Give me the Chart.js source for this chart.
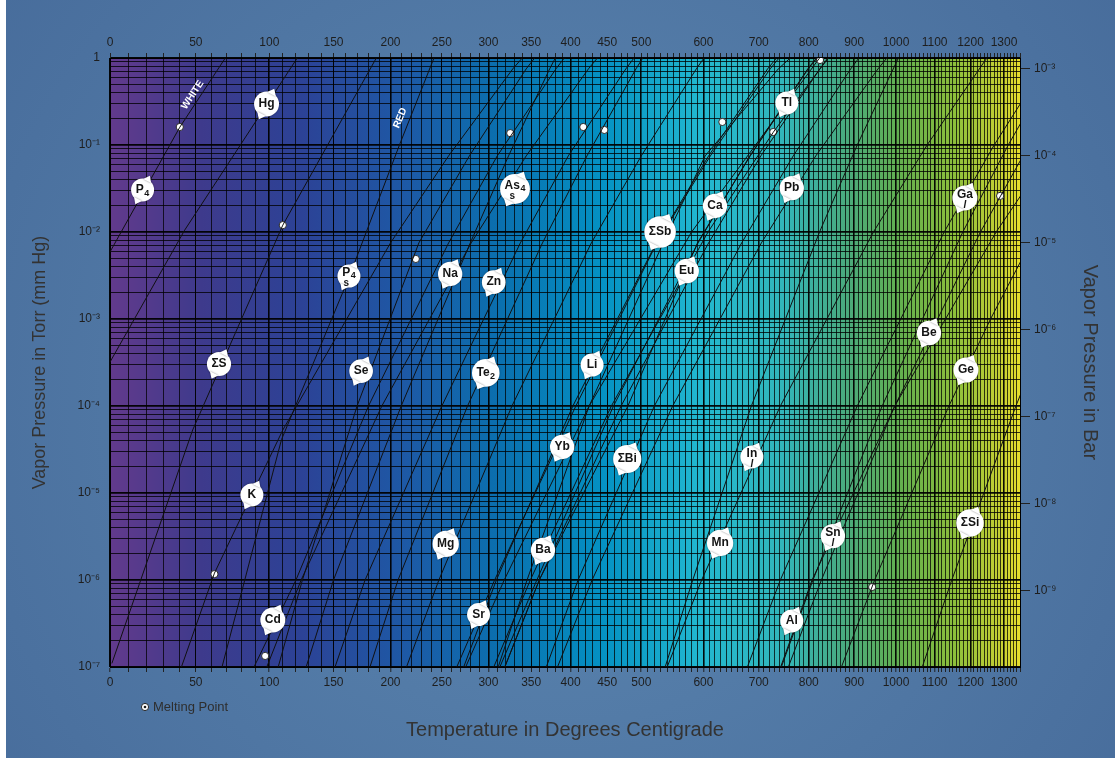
<!DOCTYPE html>
<html>
<head>
<meta charset="utf-8">
<script src="https://cdn.jsdelivr.net/npm/chart.js@4.4.1/dist/chart.umd.min.js"></script>
<style>
html,body{margin:0;padding:0;background:#fff;}
#wrap{width:1115px;height:758px;}
canvas{display:block;}
</style>
</head>
<body>
<div id="wrap"><canvas id="c" width="1115" height="758"></canvas></div>
<script>
// ---------- DATA (temperature in °C, pressure in Torr) ----------
const P4_WHITE = [[0,5.9e-3],[40,0.16],[70,1.05]];
const HG       = [[0,3.2e-4],[43,1.05e-2],[121,1.0]];
const S_TOTAL  = [[1,1.1e-7],[48,5.3e-5],[110,1.2e-2],[187,1.0]];
const P4_RED   = [[67,1e-7],[109,4.1e-5],[163,3.0e-3],[209,0.105],[242,1.0]];
const K_       = [[41,1e-7],[62,1.2e-6],[110,5.3e-5],[200,7.5e-3],[257,7.5e-2],[328,0.75],[424,7.5]];
const CD       = [[89,1e-7],[120,1e-6],[180,1e-4],[257,7.5e-3],[310,7.5e-2],[381,0.75],[472,7.5]];
const NA       = [[74,1e-8],[124,1e-6],[192,1e-4],[281,7.5e-3],[344,7.5e-2],[424,0.75],[529,7.5]];
const SE       = [[89,1e-8],[125,1e-6],[170,1e-4],[227,7.5e-3],[279,7.5e-2],[344,0.75],[431,7.5]];
const ZN       = [[127,1e-8],[177,1e-6],[250,1e-4],[337,7.5e-3],[397,7.5e-2],[477,0.75],[579,7.5]];
const TE2      = [[157,1e-8],[207,1e-6],[277,1e-4],[364,7.5e-3],[422,7.5e-2],[492,0.75],[578,7.5]];
const AS4      = [[107,1e-8],[150,1e-6],[210,1e-4],[280,7.5e-3],[323,7.5e-2],[373,0.75],[433,7.5]];
const MG       = [[185,1e-8],[247,1e-6],[327,1e-4],[428,7.5e-3],[500,7.5e-2],[588,0.75],[698,7.5]];
const LI       = [[227,1e-8],[307,1e-6],[407,1e-4],[524,7.5e-3],[612,7.5e-2],[722,0.75],[871,7.5]];
const SR       = [[239,1e-8],[309,1e-6],[403,1e-4],[523,7.5e-3],[609,7.5e-2],[717,0.75],[866,7.5]];
const BA       = [[306,1e-7],[349,1e-6],[456,1e-4],[608,1e-2],[728,0.14],[841,1.0]];
const YB       = [[275,1e-7],[318,1e-6],[425,1e-4],[580,1e-2],[823,1.0]];
const CA       = [[272,1e-8],[357,1e-6],[459,1e-4],[591,7.5e-3],[683,7.5e-2],[798,0.75],[954,7.5]];
const EU       = [[280,1e-8],[360,1e-6],[480,1e-4],[590,7.5e-3],[684,7.5e-2],[799,0.75],[961,7.5]];
const SB       = [[279,1e-8],[345,1e-6],[425,1e-4],[534,7.5e-3],[603,7.5e-2],[738,0.75],[946,7.5]];
const BI       = [[330,1e-8],[410,1e-6],[520,1e-4],[668,7.5e-3],[768,7.5e-2],[892,0.75],[1052,7.5]];
const TL       = [[280,1e-8],[360,1e-6],[470,1e-4],[609,7.5e-3],[704,7.5e-2],[824,0.75],[979,7.5]];
const PB       = [[340,1e-8],[429,1e-6],[549,1e-4],[705,7.5e-3],[815,7.5e-2],[956,0.75],[1139,7.5]];
const IN       = [[487,1e-8],[597,1e-6],[742,1e-4],[945,1e-2],[1080,1e-1],[1248,1.0]];
const MN       = [[537,1e-7],[582,1e-6],[686,1e-4],[823,1e-2],[907,1e-1],[1006,1.0]];
const AL       = [[744,1e-7],[809,1e-6],[966,1e-4],[1178,1e-2],[1313,1e-1],[1476,1.0]];
const SN       = [[682,1e-8],[807,1e-6],[997,1e-4],[1276,1e-2],[1465,1e-1]];
const GA       = [[619,1e-8],[742,1e-6],[907,1e-4],[1126,1e-2],[1270,1e-1],[1446,1.0]];
const BE       = [[758,1e-7],[827,1e-6],[997,1e-4],[1229,1e-2],[1379,1e-1]];
const GE       = [[871,1e-7],[948,1e-6],[1139,1e-4],[1259,1e-3],[1402,1e-2]];
const SI       = [[992,1e-8],[1147,1e-6],[1337,1e-4],[1452,1e-3]];

const curves = [P4_WHITE,HG,S_TOTAL,P4_RED,K_,CD,NA,SE,ZN,TE2,AS4,MG,LI,SR,BA,YB,CA,EU,SB,BI,TL,PB,IN,MN,AL,SN,GA,BE,GE,SI];

// melting points
const mpT = [40,110,62,97,224,325,417,446,633,728,824,942,1288];
const mpP = [0.161,0.012,1.17e-6,1.34e-7,4.9e-3,0.137,0.161,0.149,0.184,0.141,0.948,8.3e-7,0.026];

// element labels
const labelName  = ['P','Hg','ΣS','K','Cd','P','Se','Na','Zn','Te','Mg','Sr','Ba','Yb','Li','As','ΣSb','Ca','Eu','ΣBi','Tl','Pb','In','Mn','Al','Sn','Ga','Be','Ge','ΣSi'];
const labelSub   = ['4','','','','','4','','','','2','','','','','','4','','','','','','','','','','','','','',''];
const labelPhase = ['','','','','','s','','','','','','','','','','s','','','','','','','l','','','l','l','','',''];
const labelT = [18,98,65,87.5,102.6,163,173.5,258.6,306,297,254,289,364.6,389,429,330.6,529,620,572,479,755,765,687,629,765,852,1184,1085,1187,1198.6];
const labelP = [0.0304,0.296,3.04e-4,9.5e-6,3.47e-7,3.12e-3,2.52e-4,3.29e-3,2.65e-3,2.4e-4,2.6e-6,4.0e-7,2.21e-6,3.38e-5,2.96e-4,0.0312,0.01,0.0199,3.56e-3,2.46e-5,0.304,0.032,2.6e-5,2.66e-6,3.38e-7,3.2e-6,0.0246,6.9e-4,2.59e-4,4.52e-6];

// phosphorus modification captions
const allotropeText = ['WHITE','RED'];
const allotropeT = [48,209];
const allotropeP = [0.376,0.204];

// axis ticks
const xMajorC = [0,50,100,150,200,250,300,350,400,450,500,600,700,800,900,1000,1100,1200,1300];
const xMaxC = 1350;
const torrMin = 1e-7, torrMax = 1;
const barDecades = [1e-3,1e-4,1e-5,1e-6,1e-7,1e-8,1e-9];
const TORR_TO_BAR = 1.33322e-3;

// ---------- helpers ----------
const K0 = 273.15;
const FONT = "'Liberation Sans', Arial, sans-serif";
const SUP = {'-':'⁻','0':'⁰','1':'¹','2':'²','3':'³','4':'⁴','5':'⁵','6':'⁶','7':'⁷','8':'⁸','9':'⁹'};
function powLabel(v){
  const e = Math.round(Math.log10(v));
  if (e === 0) return '1';
  return '10' + String(e).split('').map(c=>SUP[c]).join('');
}
const xGridC = []; for (let c=0;c<=xMaxC;c+=10) xGridC.push(c);
const yGridTorr = [];
for (let e=-7;e<0;e++) for (let m=1;m<10;m++) yGridTorr.push(m*Math.pow(10,e));
yGridTorr.push(1);
const isDecade = v => Math.abs(Math.log10(v)-Math.round(Math.log10(v)))<1e-9;
const cOf = v => Math.round(v-K0);

// ---------- datasets ----------
const datasets = curves.map(s => ({
  data: s.map(([t,p]) => ({x:t+K0, y:p})),
  showLine:true, borderColor:'#101010', borderWidth:1, pointRadius:0, pointHoverRadius:0,
  xAxisID:'x', yAxisID:'y'
}));
const mpData = mpT.map((t,i)=>({x:t+K0,y:mpP[i]}));
datasets.push({data:mpData, showLine:false, pointRadius:3.6, pointBackgroundColor:'#ffffff',
  pointBorderColor:'#2a2a2a', pointBorderWidth:1, xAxisID:'x', yAxisID:'y'});
datasets.push({data:mpData, showLine:false, pointRadius:1.3, pointBackgroundColor:'#1a1a1a',
  pointBorderWidth:0, xAxisID:'x', yAxisID:'y'});

// ---------- plugins ----------
const bgPlugin = {
  id:'bg',
  beforeDraw(chart){
    const {ctx, chartArea:a, width, height} = chart;
    ctx.save();
    ctx.fillStyle = '#ffffff';
    ctx.fillRect(0,0,width,height);
    const g = ctx.createRadialGradient(560,400,60,560,400,720);
    g.addColorStop(0,'#5b85af');
    g.addColorStop(1,'#476c9b');
    ctx.fillStyle = g;
    ctx.fillRect(6,0,width-6,height);
    const lg = ctx.createLinearGradient(a.left,0,a.right,0);
    const stops = [[0,'rgb(98,58,140)'],[0.1,'rgb(62,58,140)'],[0.21,'rgb(44,66,150)'],[0.32,'rgb(30,88,165)'],
      [0.43,'rgb(10,112,175)'],[0.54,'rgb(4,145,195)'],[0.65,'rgb(34,184,208)'],[0.74,'rgb(50,182,186)'],
      [0.81,'rgb(74,170,124)'],[0.87,'rgb(100,176,78)'],[0.925,'rgb(138,190,60)'],[0.975,'rgb(192,206,52)'],[1,'rgb(230,222,46)']];
    stops.forEach(([f,c])=>lg.addColorStop(f,c));
    ctx.fillStyle = lg;
    ctx.fillRect(a.left,a.top,a.right-a.left,a.bottom-a.top);
    ctx.restore();
  }
};

function drawBubble(ctx,x,y,name,sub,phase){
  ctx.save();
  ctx.font = `bold 12px ${FONT}`;
  const wMain = ctx.measureText(name).width;
  ctx.font = `bold 9px ${FONT}`;
  const wSub = sub ? ctx.measureText(sub).width+0.5 : 0;
  const w = wMain + wSub;
  const r = Math.max(11.5, w/2+4.5);
  ctx.fillStyle = '#ffffff';
  ctx.shadowColor = 'rgba(0,0,0,0.45)';
  ctx.shadowBlur = 2;
  ctx.beginPath();
  ctx.arc(x,y,r,0,Math.PI*2);
  ctx.fill();
  const ang = -Math.PI*0.35;
  [ang, ang+Math.PI].forEach(a=>{
    const tx = x+Math.cos(a)*(r+4.5), ty = y+Math.sin(a)*(r+4.5);
    ctx.beginPath();
    ctx.moveTo(x+Math.cos(a+0.42)*r*0.96, y+Math.sin(a+0.42)*r*0.96);
    ctx.lineTo(tx,ty);
    ctx.lineTo(x+Math.cos(a-0.42)*r*0.96, y+Math.sin(a-0.42)*r*0.96);
    ctx.closePath();
    ctx.fill();
  });
  ctx.shadowBlur = 0; ctx.shadowColor = 'transparent';
  ctx.fillStyle = '#141414';
  ctx.textBaseline = 'middle';
  ctx.textAlign = 'left';
  const ty = phase ? y-3.5 : y;
  ctx.font = `bold 12px ${FONT}`;
  ctx.fillText(name, x-w/2, ty);
  if (sub){
    ctx.font = `bold 9px ${FONT}`;
    ctx.fillText(sub, x-w/2+wMain+0.5, ty+3.5);
  }
  if (phase){
    ctx.font = (phase==='l' ? 'italic ' : '') + `bold 10px ${FONT}`;
    ctx.textAlign = 'center';
    ctx.fillText(phase, x-wSub/2, y+7.5);
  }
  ctx.restore();
}

const annotPlugin = {
  id:'annot',
  afterDatasetsDraw(chart){
    const {ctx} = chart;
    const xs = chart.scales.x, ys = chart.scales.y;
    [P4_WHITE,P4_RED].forEach((curve,i)=>{
      const a = curve[1], b = curve[2];
      const ang = Math.atan2(ys.getPixelForValue(b[1])-ys.getPixelForValue(a[1]),
                             xs.getPixelForValue(b[0]+K0)-xs.getPixelForValue(a[0]+K0));
      const px = xs.getPixelForValue(allotropeT[i]+K0), py = ys.getPixelForValue(allotropeP[i]);
      ctx.save();
      ctx.translate(px,py); ctx.rotate(ang);
      ctx.font = `bold 10px ${FONT}`;
      ctx.fillStyle = '#ffffff';
      ctx.textAlign = 'center'; ctx.textBaseline = 'middle';
      ctx.fillText(allotropeText[i],0,0);
      ctx.restore();
    });
    labelName.forEach((n,i)=>{
      drawBubble(ctx, xs.getPixelForValue(labelT[i]+K0), ys.getPixelForValue(labelP[i]), n, labelSub[i], labelPhase[i]);
    });
    ctx.save();
    ctx.beginPath(); ctx.arc(145,707,3.6,0,Math.PI*2);
    ctx.fillStyle='#fff'; ctx.fill(); ctx.strokeStyle='#2a2a2a'; ctx.lineWidth=1; ctx.stroke();
    ctx.beginPath(); ctx.arc(145,707,1.3,0,Math.PI*2); ctx.fillStyle='#1a1a1a'; ctx.fill();
    ctx.font = `13px ${FONT}`; ctx.fillStyle='#2e2e2e'; ctx.textBaseline='middle'; ctx.textAlign='left';
    ctx.fillText('Melting Point',153,707);
    ctx.restore();
  }
};

// ---------- scales ----------
const xTickCb = v => xMajorC.includes(cOf(v)) ? String(cOf(v)) : '';
const tickFont = {size:12, family:FONT};
const xCommon = {
  type:'logarithmic', bounds:'data', min:K0, max:xMaxC+K0,
  afterBuildTicks: s => { s.ticks = xGridC.map(c=>({value:c+K0})); },
  ticks:{autoSkip:false, maxRotation:0, minRotation:0, padding:3, color:'#1e1e1e', font:tickFont, callback:xTickCb},
  border:{display:true, color:'#000', width:1}
};

const chart = new Chart(document.getElementById('c'), {
  type:'scatter',
  data:{datasets},
  options:{
    responsive:false, animation:false, devicePixelRatio:1,
    layout:{padding:0},
    plugins:{legend:{display:false}, tooltip:{enabled:false}},
    events:[],
    scales:{
      x: Object.assign({}, xCommon, {
        position:'bottom',
        grid:{
          color: c => xMajorC.includes(cOf(c.tick.value)) ? 'rgba(0,0,0,0.95)' : 'rgba(0,0,0,0.75)',
          lineWidth: c => (cOf(c.tick.value)%100===0) ? 1.6 : 1,
          tickLength:5, tickColor:'#222', tickWidth:1
        },
        title:{display:true, text:'Temperature in Degrees Centigrade', color:'#333333',
          font:{size:20, family:FONT}, padding:{top:0,bottom:16}},
        afterFit: s => { s.height = 91; }
      }),
      x2: Object.assign({}, xCommon, {
        position:'top',
        grid:{drawOnChartArea:false, tickLength:5, tickColor:'#222', tickWidth:1, color:'#222'},
        afterFit: s => { s.height = 58; }
      }),
      y: {
        type:'logarithmic', bounds:'data', position:'left', min:torrMin, max:torrMax,
        afterBuildTicks: s => { s.ticks = yGridTorr.map(v=>({value:v})); },
        ticks:{autoSkip:false, padding:10, color:'#1e1e1e', font:tickFont,
          callback: v => isDecade(v) ? powLabel(v) : ''},
        grid:{
          color: c => isDecade(c.tick.value) ? 'rgba(0,0,0,0.95)' : 'rgba(0,0,0,0.78)',
          lineWidth: c => isDecade(c.tick.value) ? 1.8 : 1,
          drawTicks:false
        },
        border:{display:true, color:'#000', width:1},
        title:{display:true, text:'Vapor Pressure in Torr (mm Hg)', color:'#333333',
          font:{size:18, family:FONT}, padding:{top:29,bottom:0}},
        afterFit: s => { s.width = 110; }
      },
      y2: {
        type:'logarithmic', bounds:'data', position:'right',
        min:torrMin*TORR_TO_BAR, max:torrMax*TORR_TO_BAR,
        afterBuildTicks: s => { s.ticks = barDecades.map(v=>({value:v})); },
        ticks:{autoSkip:false, padding:4, color:'#1e1e1e', font:tickFont, callback: v => powLabel(v)},
        grid:{drawOnChartArea:false, tickLength:10, tickColor:'#222', tickWidth:1, color:'#222'},
        border:{display:true, color:'#000', width:1},
        title:{display:true, text:'Vapor Pressure in Bar', color:'#333333',
          font:{size:20, family:FONT}, padding:{top:13,bottom:0}},
        afterFit: s => { s.width = 95; }
      }
    }
  },
  plugins:[bgPlugin, annotPlugin]
});
</script>
</body>
</html>
